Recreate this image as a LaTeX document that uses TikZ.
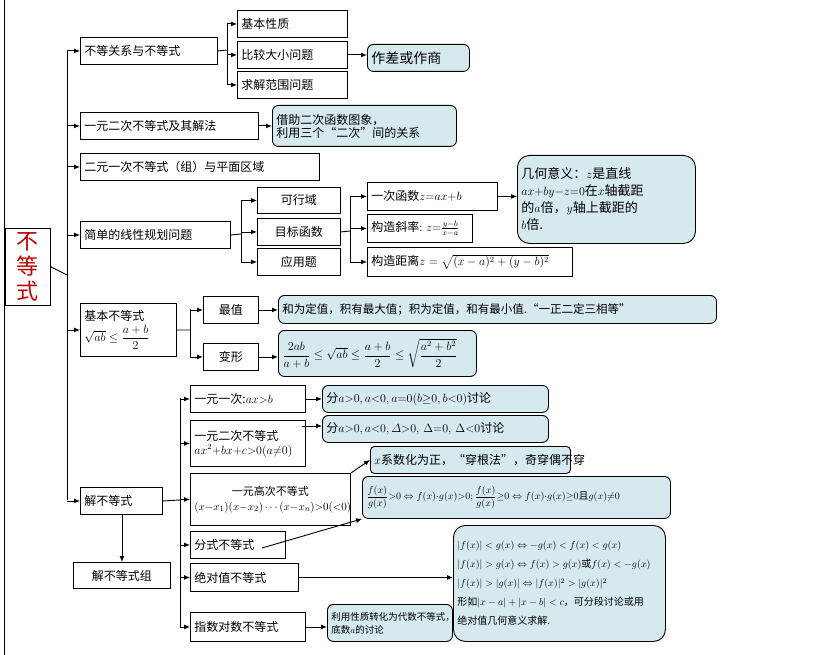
\documentclass[tikz,border=0pt]{standalone}
\usepackage{fontspec}
\usepackage{amsmath,amssymb}
\setmainfont{Noto Sans CJK SC}
\usetikzlibrary{arrows.meta}
\definecolor{lb}{HTML}{D5E9EF}
\newcommand\bx[7]{\node[#6,anchor=north west,text width={(#4-#2)*1pt-8pt},minimum height={(#5-#3)*1pt},inner sep=4pt] (#1) at (#2,#3) {#7};}
\tikzset{
 bxs/.style={draw,line width=0.9pt,fill=white,align=left,font=\fontsize{12}{14}\selectfont},
 bls/.style={bxs,fill=lb,rounded corners=6pt},
 arr/.style={-{Latex[length=6pt,width=5pt]},line width=0.9pt},
 ln/.style={line width=0.9pt}
}
\begin{document}
\begin{tikzpicture}[x=1pt,y=-1pt]
\useasboundingbox (0,0) rectangle (829,655);
\draw[ln] (4,0) -- (4,655);
\bx{m}{5}{228}{50}{290}{bxs,align=center,text=red!75!black,font=\fontsize{22}{25}\selectfont}{不\\等\\式}
\coordinate (t) at (67,50);
\draw[ln] (m.east) -- (67,275);
\draw[ln] (67,50) -- (67,500);
% first branch
\bx{a}{80}{37}{217}{64}{bxs}{不等关系与不等式}
\bx{a1}{237}{10}{347}{37}{bxs}{基本性质}
\bx{a2}{237}{41}{347}{68}{bxs}{比较大小问题}
\bx{a3}{237}{71}{347}{98}{bxs}{求解范围问题}
\bx{a4}{367}{44}{469}{71}{bls,font=\fontsize{14}{16}\selectfont}{作差或作商}
\coordinate (ab) at (227,50);
\draw[ln] (a.east) -- (ab);
\draw[ln] (227,23) -- (227,85);
\foreach \n in {a1,a2,a3} \draw[arr] (ab |- \n.west) -- (\n.west);
\draw[arr] (a2.east) -- (a4.west |- a2.east);
\bx{b}{80}{112}{258}{139}{bxs}{一元二次不等式及其解法}
\bx{b1}{272}{105}{456}{146}{bls,font=\fontsize{12}{13}\selectfont}{借助二次函数图象，\\利用三个“二次”间的关系}
\draw[arr] (b.east) -- (b1.west |- b.east);
\bx{c}{80}{153}{319}{180}{bxs}{二元一次不等式（组）与平面区域}
\bx{d}{80}{221}{230}{248}{bxs}{简单的线性规划问题}
\bx{d1}{257}{187}{340}{213}{bxs,align=center}{可行域}
\bx{d2}{257}{218}{340}{245}{bxs,align=center}{目标函数}
\bx{d3}{257}{248}{340}{275}{bxs,align=center}{应用题}
\coordinate (db) at (241,234);
\draw[ln] (d.east) -- (db); \draw[ln] (241,200) -- (241,262);
\foreach \n in {d1,d2,d3} \draw[arr] (db |- \n.west) -- (\n.west);
\bx{e1}{367}{182}{497}{210}{bxs}{一次函数$z{=}ax{+}b$}
\bx{e2}{367}{214}{472}{242}{bxs,inner ysep=1pt,inner xsep=3pt}{构造斜率$:z{=}\frac{y-b}{x-a}$}
\bx{e3}{367}{247}{572}{276}{bxs,inner ysep=1pt}{构造距离$z=\sqrt{(x-a)^2+(y-b)^2}$}
\coordinate (eb) at (350,231);
\draw[ln] (d2.east) -- (eb); \draw[ln] (350,196) -- (350,262);
\foreach \n in {e1,e2,e3} \draw[arr] (eb |- \n.west) -- (\n.west);
\bx{e4}{517}{155}{695}{243}{bls,rounded corners=12pt,font=\fontsize{13}{17}\selectfont}{几何意义：$z$是直线\\$ax{+}by{-}z{=}0$在$x$轴截距\\的$a$倍，$y$轴上截距的\\$b$倍.}
\draw[arr] (e1.east) -- (e4.west |- e1.east);
\bx{f}{80}{303}{176}{356}{bxs,inner ysep=2pt,font=\fontsize{12}{14}\selectfont}{基本不等式\\[3pt]$\sqrt{ab}\le\dfrac{a+b}{2}$}
\bx{f1}{203}{296}{258}{323}{bxs,align=center}{最值}
\bx{f2}{203}{343}{258}{370}{bxs,align=center}{变形}
\coordinate (fb) at (190,330);
\draw[ln] (f.east) -- (fb); \draw[ln] (190,309) -- (190,357);
\foreach \n in {f1,f2} \draw[arr] (fb |- \n.west) -- (\n.west);
\bx{f3}{278}{295}{716}{323}{bls,font=\fontsize{11.5}{13}\selectfont}{和为定值，积有最大值；积为定值，和有最小值.“一正二定三相等”}
\bx{f4}{278}{330}{476}{376}{bls}{$\dfrac{2ab}{a+b}\le\sqrt{ab}\le\dfrac{a+b}{2}\le\sqrt{\dfrac{a^2+b^2}{2}}$}
\draw[arr] (f1.east) -- (f3.west |- f1.east);
\draw[arr] (f2.east) -- (f4.west |- f2.east);
% solving
\bx{g}{80}{487}{162}{514}{bxs}{解不等式}
\bx{g0}{73}{562}{170}{588}{bxs,align=center}{解不等式组}
\draw[arr] (g.south -| g0.north) -- (g0.north);
\coordinate (gb) at (180,500);
\draw[ln] (g.east) -- (gb); \draw[ln] (180,398) -- (180,627);
\foreach \n in {a,b,c,d,f,g} \draw[arr] (t |- \n.west) -- (\n.west);
\bx{h1}{190}{385}{305}{412}{bxs}{一元一次:$ax{>}b$}
\bx{h2}{190}{420}{305}{466}{bxs,font=\fontsize{12}{14}\selectfont}{一元二次不等式\\$ax^2{+}bx{+}c{>}0(a{\ne}0)$}
\bx{h3}{190}{473}{350}{525}{bxs,align=center,inner xsep=1pt,font=\fontsize{11}{15}\selectfont}{一元高次不等式\\$(x{-}x_1)(x{-}x_2)\cdots(x{-}x_n){>}0({<}0)$}
\bx{h4}{190}{531}{285}{558}{bxs}{分式不等式}
\bx{h5}{190}{563}{298}{591}{bxs}{绝对值不等式}
\bx{h6}{190}{612}{305}{641}{bxs}{指数对数不等式}
\foreach \n in {h1,h2,h3,h4,h5,h6} \draw[arr] (gb |- \n.west) -- (\n.west);
\bx{k1}{322}{385}{548}{412}{bls}{分$a{>}0,a{<}0,a{=}0(b{\ge}0,b{<}0)$讨论}
\bx{k2}{322}{415}{548}{442}{bls}{分$a{>}0,a{<}0,\varDelta{>}0,\,\Delta{=}0,\,\Delta{<}0$讨论}
\bx{k3}{370}{446}{570}{473}{bls,rounded corners=4pt}{$x$系数化为正，“穿根法”，奇穿偶不穿}
\bx{k4}{362}{476}{670}{518}{bls,font=\fontsize{10}{12}\selectfont}{$\dfrac{f(x)}{g(x)}{>}0\Leftrightarrow f(x){\cdot} g(x){>}0;\dfrac{f(x)}{g(x)}{\ge}0\Leftrightarrow f(x){\cdot} g(x){\ge}0$且$g(x){\ne}0$}
\bx{k5}{453}{525}{665}{641}{bls,rounded corners=12pt,inner xsep=3pt,font=\fontsize{10}{19}\selectfont}{$|f(x)|<g(x)\Leftrightarrow -g(x)<f(x)<g(x)$\\$|f(x)|>g(x)\Leftrightarrow f(x)>g(x)$或$f(x)<-g(x)$\\$|f(x)|>|g(x)|\Leftrightarrow |f(x)|^2>|g(x)|^2$\\形如$|x-a|+|x-b|<c$，可分段讨论或用\\绝对值几何意义求解.}
\bx{k6}{327}{604}{452}{641}{bls,inner xsep=3pt,font=\fontsize{9.5}{13}\selectfont}{利用性质转化为代数不等式，\\底数$a$的讨论}
\draw[arr] (h1.east) -- (k1.west |- h1.east);
\draw[arr] (302,426) -- (k2.west |- 302,426);
\draw[arr] (h3.north east) -- (k3.west);
\draw[arr] (262,548) -- (k4.south west);
\draw[arr] (h5.east) -- (k5.west |- h5.east);
\draw[arr] (h6.east) -- (k6.west |- h6.east);
\end{tikzpicture}
\end{document}
